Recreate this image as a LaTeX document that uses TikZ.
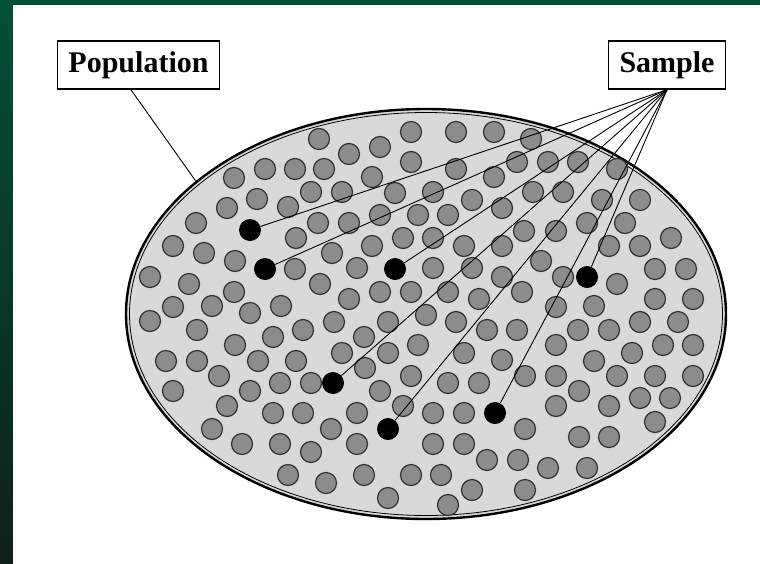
\documentclass[tikz,border=0pt]{standalone}
\usepackage{fontspec}
\setmainfont{Liberation Serif}
\usetikzlibrary{shapes.geometric}
\definecolor{slidegreen}{HTML}{03503A}
\definecolor{slidedark}{HTML}{0E1F19}
\begin{document}
\begin{tikzpicture}[x=1pt, y=-1pt,
        tag/.style={rectangle, draw, line width=1.4pt, fill=white, minimum height=48pt, inner xsep=11pt, font=\bfseries\fontsize{30}{36}\selectfont},
        ball/.style={circle, draw=black!80, line width=1.2pt, fill=black!45, minimum size=21pt, inner sep=0pt},
        pick/.style={circle, fill=black, minimum size=22pt, inner sep=0pt},
        line/.style={draw, line width=0.9pt}
    ]
        \useasboundingbox (0,0) rectangle (760,563);
        \fill[slidegreen] (0,0) rectangle (760,563);
        \shade[top color=slidegreen, bottom color=slidedark] (0,5) rectangle (13,563);
        \fill[white] (13,5) rectangle (760,563);

        % the population
        \node[ellipse, draw, line width=2.4pt, fill=black!15, minimum width=600pt, minimum height=410pt, inner sep=0pt] (popedge) at (426,314) {};
        \node[ellipse, draw, line width=0.8pt, minimum width=593pt, minimum height=403pt, inner sep=0pt] (popinner) at (426,314) {};

        \foreach \x/\y [count=\i] in {319/139, 411/132, 456/132, 494/132, 531/139, 349/154, 380/147, 411/162,
            517/162, 548/162, 578/162, 234/178, 265/169, 295/169, 324/169, 372/177, 456/169, 494/177, 617/169,
            257/199, 227/208, 288/207, 311/192, 342/192, 395/193, 433/192, 472/200, 502/208, 533/192, 563/192,
            602/200, 640/200, 196/223, 318/223, 349/223, 380/215, 418/215, 448/215, 296/238, 173/246, 204/253,
            235/261, 295/269, 332/253, 372/246, 403/238, 433/238, 464/246, 502/246, 524/231, 556/231, 587/223,
            625/223, 609/246, 640/246, 671/238, 357/268, 433/268, 472/268, 502/277, 541/261, 563/277, 617/284,
            655/269, 686/269, 150/277, 189/284, 234/292, 320/284, 349/299, 380/292, 411/292, 448/292, 479/299,
            522/292, 556/307, 594/306, 655/299, 693/299, 173/307, 212/306, 250/313, 281/306, 150/321, 197/330,
            235/345, 273/337, 303/330, 334/322, 388/322, 426/315, 456/322, 487/330, 517/330, 578/330, 609/330,
            640/322, 678/322, 364/337, 166/361, 197/361, 219/376, 258/361, 296/361, 342/353, 388/353, 418/345,
            464/353, 502/360, 556/345, 594/361, 632/353, 663/345, 693/345, 365/368, 411/376, 525/376, 556/376,
            617/376, 655/376, 693/376, 173/391, 250/391, 280/383, 311/383, 448/383, 479/383, 380/391, 579/391,
            640/398, 670/398, 227/406, 273/413, 303/413, 403/406, 357/413, 433/413, 464/413, 556/406, 609/406,
            655/422, 212/429, 331/429, 525/429, 579/437, 609/437, 242/444, 280/444, 311/452, 357/444, 433/444,
            464/444, 487/460, 518/460, 548/468, 587/468, 288/475, 326/483, 364/475, 411/475, 441/475, 472/490,
            525/490, 388/498, 448/505}
            \node[ball] (p\i) at (\x,\y) {};

        % the sample
        \node[pick] (s1) at (250,230) {};
        \node[pick] (s2) at (265,269) {};
        \node[pick] (s3) at (395,269) {};
        \node[pick] (s4) at (587,277) {};
        \node[pick] (s5) at (333,383) {};
        \node[pick] (s6) at (388,429) {};
        \node[pick] (s7) at (495,413) {};

        \node[tag] (population) at (138.5,65) {Population};
        \node[tag] (sample) at (667,65) {Sample};

        \draw[line] (population.-107) -- (popedge.150);
        \foreach \i in {1,...,7}
            \draw[line] (sample.south) -- (s\i);
\end{tikzpicture}
\end{document}
